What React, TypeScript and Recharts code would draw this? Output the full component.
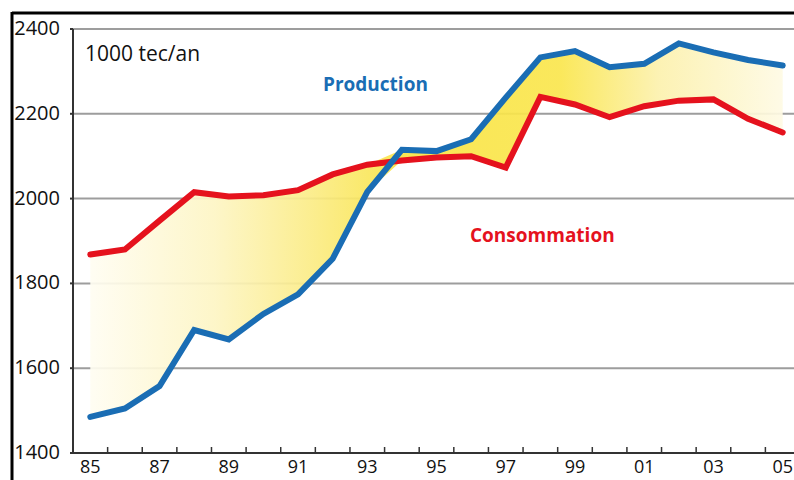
import { ComposedChart, Line, Area, XAxis, YAxis, CartesianGrid } from 'recharts'

const years = [85, 86, 87, 88, 89, 90, 91, 92, 93, 94, 95, 96, 97, 98, 99, 100, 101, 102, 103, 104, 105]
const yearLabels = ['85', '', '87', '', '89', '', '91', '', '93', '', '95', '', '97', '', '99', '', '01', '', '03', '', '05']
const production = [1485, 1505, 1558, 1690, 1668, 1728, 1774, 1858, 2016, 2115, 2112, 2140, 2238, 2333, 2348, 2310, 2318, 2366, 2345, 2327, 2314]
const consommation = [1868, 1880, 1948, 2015, 2005, 2008, 2020, 2057, 2080, 2090, 2097, 2100, 2073, 2240, 2222, 2192, 2218, 2231, 2234, 2188, 2156]
const yTicks = [1400, 1600, 1800, 2000, 2200, 2400]

const BLUE = '#1a6db4'
const RED = '#e5121d'
const FONT = '"Open Sans", "Noto Sans", sans-serif'

const data = years.map((year, i) => ({
  year,
  production: production[i],
  consommation: consommation[i],
  gap: [Math.min(production[i], consommation[i]), Math.max(production[i], consommation[i])],
}))

const HALF_STEP = 17.3

function YearTick(props: any) {
  const { x, y, index } = props
  const label = yearLabels[index]
  return (
    <g>
      <line x1={x - HALF_STEP} x2={x - HALF_STEP} y1={y} y2={y - 6} stroke="#333" strokeWidth={1.5} />
      {label && (
        <text x={x} y={y + 20} textAnchor="middle" fontFamily={FONT} fontSize={18} fill="#111">
          {label}
        </text>
      )}
    </g>
  )
}

function ValueTick(props: any) {
  const { x, y, payload } = props
  return (
    <text x={x} y={y} dy={6} textAnchor="end" fontFamily={FONT} fontSize={20} fill="#111">
      {payload.value}
    </text>
  )
}

export default function App() {
  return (
    <div
      style={{
        position: 'absolute',
        left: 0,
        top: 0,
        width: 794,
        height: 480,
        overflow: 'hidden',
        background: '#fff',
      }}
    >
      <ComposedChart width={800} height={480} data={data} margin={{ top: 29, right: 0, bottom: 0, left: 0 }}>
        <defs>
          <linearGradient id="gap-fill" x1="0" y1="0" x2="1" y2="0">
            <stop offset="0%" stopColor="#fffdf2" />
            <stop offset="18%" stopColor="#fdf5c4" />
            <stop offset="32%" stopColor="#fbec86" />
            <stop offset="45%" stopColor="#f9e446" />
            <stop offset="68%" stopColor="#fae64e" />
            <stop offset="82%" stopColor="#fcf1ad" />
            <stop offset="100%" stopColor="#fefae4" />
          </linearGradient>
        </defs>
        <CartesianGrid vertical={false} stroke="#9d9d9d" strokeWidth={2} />
        <XAxis
          dataKey="year"
          type="number"
          domain={[84.5, 105.5]}
          ticks={years}
          interval={0}
          height={27}
          tickLine={false}
          tickSize={0}
          tickMargin={0}
          axisLine={{ stroke: '#333', strokeWidth: 2 }}
          tick={<YearTick />}
        />
        <YAxis
          width={73}
          domain={[1400, 2400]}
          ticks={yTicks}
          interval={0}
          tickSize={3}
          tickMargin={10}
          tickLine={{ stroke: '#333', strokeWidth: 2 }}
          axisLine={{ stroke: '#333', strokeWidth: 2 }}
          tick={<ValueTick />}
        />
        <Area
          type="linear"
          dataKey="gap"
          stroke="none"
          fill="url(#gap-fill)"
          fillOpacity={0.92}
          isAnimationActive={false}
        />
        <Line
          type="linear"
          dataKey="consommation"
          stroke={RED}
          strokeWidth={6}
          strokeLinecap="round"
          dot={false}
          isAnimationActive={false}
        />
        <Line
          type="linear"
          dataKey="production"
          stroke={BLUE}
          strokeWidth={6}
          strokeLinecap="round"
          dot={false}
          isAnimationActive={false}
        />
      </ComposedChart>
      <svg width={794} height={480} style={{ position: 'absolute', left: 0, top: 0, pointerEvents: 'none' }}>
        <line x1={12} x2={794} y1={13} y2={13} stroke="#000" strokeWidth={3} />
        <line x1={12} x2={12} y1={12} y2={480} stroke="#000" strokeWidth={3} />
        <text x={85} y={61} fontFamily={FONT} fontSize={21} fill="#111">1000 tec/an</text>
        <text x={323} y={91} fontFamily={FONT} fontSize={19} fontWeight="bold" fill={BLUE}>Production</text>
        <text x={470} y={242} fontFamily={FONT} fontSize={19} fontWeight="bold" fill={RED}>Consommation</text>
      </svg>
    </div>
  )
}
